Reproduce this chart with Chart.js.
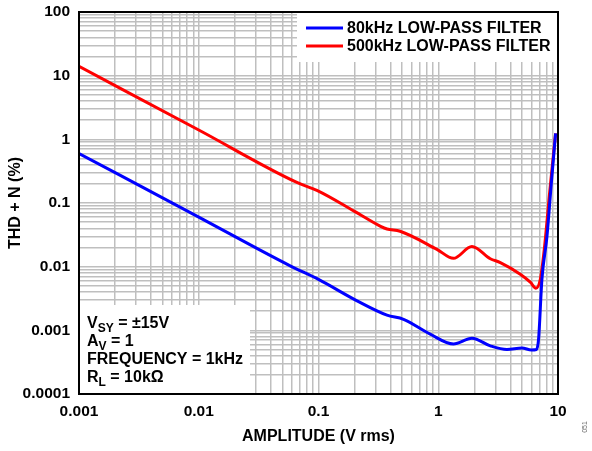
<!DOCTYPE html>
<html>
<head>
<meta charset="utf-8">
<script src="https://cdn.jsdelivr.net/npm/chart.js@4/dist/chart.umd.min.js"></script>
<style>
  html, body { margin: 0; padding: 0; background: #fff; }
  #wrap { width: 592px; height: 451px; position: relative; }
</style>
</head>
<body>
<div id="wrap"><canvas id="c" width="592" height="451"></canvas></div>
<script>
// ---- Data ----
const amplitude80kHz = [0.001, 0.01, 0.058, 0.1, 0.21, 0.373, 0.513, 0.857, 1.34, 1.91, 2.72, 3.75, 5.0, 6.0, 6.6, 6.88, 7.34, 8.09, 8.78, 9.55];
const thd80kHz       = [0.6, 0.06, 0.0103, 0.0063, 0.0029, 0.00173, 0.00149, 0.00087, 0.00061, 0.00075, 0.00057, 0.0005, 0.00053, 0.00049, 0.0005, 0.00072, 0.0063, 0.030, 0.197, 1.24];

const amplitude500kHz = [0.001, 0.01, 0.066, 0.097, 0.2, 0.33, 0.373, 0.48, 0.975, 1.34, 1.91, 2.72, 3.3, 4.84, 5.87, 6.55, 7.11, 7.68, 8.53, 9.55];
const thd500kHz       = [14, 1.4, 0.21, 0.158, 0.074, 0.043, 0.039, 0.036, 0.0187, 0.0135, 0.0207, 0.0133, 0.0116, 0.0076, 0.0057, 0.0046, 0.0063, 0.0187, 0.151, 1.24];

const seriesLabels = ['80kHz LOW-PASS FILTER', '500kHz LOW-PASS FILTER'];
const xDecades = [0.001, 0.01, 0.1, 1, 10];
const xTickLabels = ['0.001', '0.01', '0.1', '1', '10'];
const yDecades = [0.0001, 0.001, 0.01, 0.1, 1, 10, 100];
const yTickLabels = ['0.0001', '0.001', '0.01', '0.1', '1', '10', '100'];
const minorSteps = [1, 2, 3, 4, 5, 6, 7, 8, 9];

const xTitle = 'AMPLITUDE (V rms)';
const yTitle = 'THD + N (%)';
const conditions = [
  ['V', 'SY', ' = ±15V'],
  ['A', 'V', ' = 1'],
  ['FREQUENCY = 1kHz', '', ''],
  ['R', 'L', ' = 10kΩ']
];
const figureId = '051';

// ---- helpers ----
function gridValues(decades) {
  const out = [];
  for (let i = 0; i < decades.length - 1; i++) {
    minorSteps.forEach(m => out.push(decades[i] * m));
  }
  out.push(decades[decades.length - 1]);
  return out;
}
function decadeLabel(value, decades, labels) {
  for (let i = 0; i < decades.length; i++) {
    if (Math.abs(Math.log10(value) - Math.log10(decades[i])) < 1e-6) return labels[i];
  }
  return '';
}
const toPoints = (xs, ys) => xs.map((x, i) => ({ x: x, y: ys[i] }));

const FONT = "'Liberation Sans', Arial, sans-serif";
const gridColor = '#bfbfbf';

const overlayPlugin = {
  id: 'overlay',
  beforeDatasetsDraw(chart) {
    const { ctx, chartArea: a } = chart;
    ctx.save();
    ctx.fillStyle = '#ffffff';
    // legend panel
    ctx.fillRect(297, a.top, a.right - 297, 62 - a.top);
    // conditions panel
    ctx.fillRect(a.left, 305, 250 - a.left, a.bottom - 305);
    ctx.restore();
  },
  afterDraw(chart) {
    const { ctx, chartArea: a } = chart;
    ctx.save();
    // frame
    ctx.strokeStyle = '#000';
    ctx.lineWidth = 2;
    ctx.strokeRect(a.left, a.top, a.right - a.left, a.bottom - a.top);

    // legend
    const ds = chart.data.datasets;
    const legY = [28, 46];
    ctx.font = 'bold 16px ' + FONT;
    ctx.textBaseline = 'middle';
    ctx.textAlign = 'left';
    ds.forEach((d, i) => {
      ctx.strokeStyle = d.borderColor;
      ctx.lineWidth = 3;
      ctx.beginPath();
      ctx.moveTo(306, legY[i]);
      ctx.lineTo(343, legY[i]);
      ctx.stroke();
      ctx.fillStyle = '#000';
      ctx.fillText(d.label, 347, legY[i] + 1);
    });

    // conditions text
    const baselines = [328, 346, 364, 382];
    ctx.textBaseline = 'alphabetic';
    ctx.fillStyle = '#000';
    conditions.forEach((c, i) => {
      let x = 87;
      ctx.font = 'bold 16px ' + FONT;
      ctx.fillText(c[0], x, baselines[i]);
      x += ctx.measureText(c[0]).width;
      if (c[1]) {
        ctx.font = 'bold 12px ' + FONT;
        ctx.fillText(c[1], x, baselines[i] + 4);
        x += ctx.measureText(c[1]).width;
      }
      if (c[2]) {
        ctx.font = 'bold 16px ' + FONT;
        ctx.fillText(c[2], x, baselines[i]);
      }
    });

    // figure id
    ctx.translate(585, 427);
    ctx.rotate(-Math.PI / 2);
    ctx.font = '7px ' + FONT;
    ctx.fillStyle = '#666';
    ctx.textAlign = 'center';
    ctx.textBaseline = 'middle';
    ctx.fillText(figureId, 0, 0);
    ctx.restore();
  }
};

new Chart(document.getElementById('c'), {
  type: 'line',
  data: {
    datasets: [
      {
        label: seriesLabels[0],
        data: toPoints(amplitude80kHz, thd80kHz),
        borderColor: '#0000ff',
        borderWidth: 3,
        pointRadius: 0,
        cubicInterpolationMode: 'monotone',
        fill: false
      },
      {
        label: seriesLabels[1],
        data: toPoints(amplitude500kHz, thd500kHz),
        borderColor: '#ff0000',
        borderWidth: 3,
        pointRadius: 0,
        cubicInterpolationMode: 'monotone',
        fill: false
      }
    ]
  },
  options: {
    responsive: false,
    animation: false,
    devicePixelRatio: 1,
    layout: { padding: { left: 0, top: 12, right: 34, bottom: 0 } },
    plugins: {
      legend: { display: false },
      tooltip: { enabled: false }
    },
    scales: {
      x: {
        type: 'logarithmic',
        position: 'bottom',
        min: xDecades[0],
        max: xDecades[xDecades.length - 1],
        afterBuildTicks: s => { s.ticks = gridValues(xDecades).map(v => ({ value: v })); },
        afterFit: s => { s.height = 57; s.paddingLeft = 0; s.paddingRight = 0; },
        grid: { color: gridColor, lineWidth: 1.5, drawTicks: false },
        border: { display: false },
        ticks: {
          autoSkip: false,
          maxRotation: 0,
          padding: 8,
          color: '#000',
          font: { family: FONT, size: 15.5, weight: 'bold' },
          callback: v => decadeLabel(v, xDecades, xTickLabels)
        },
        title: {
          display: true,
          text: xTitle,
          color: '#000',
          font: { family: FONT, size: 16, weight: 'bold' },
          padding: { top: 0, bottom: 5 }
        }
      },
      y: {
        type: 'logarithmic',
        position: 'left',
        min: yDecades[0],
        max: yDecades[yDecades.length - 1],
        afterBuildTicks: s => { s.ticks = gridValues(yDecades).map(v => ({ value: v })); },
        afterFit: s => { s.width = 79; s.paddingTop = 0; s.paddingBottom = 0; },
        grid: { color: gridColor, lineWidth: 1.5, drawTicks: false },
        border: { display: false },
        ticks: {
          autoSkip: false,
          padding: 9,
          color: '#000',
          font: { family: FONT, size: 15.5, weight: 'bold' },
          callback: v => decadeLabel(v, yDecades, yTickLabels)
        },
        title: {
          display: true,
          text: yTitle,
          color: '#000',
          font: { family: FONT, size: 16, weight: 'bold' },
          padding: { top: 6, bottom: 0 }
        }
      }
    }
  },
  plugins: [overlayPlugin]
});
</script>
</body>
</html>
